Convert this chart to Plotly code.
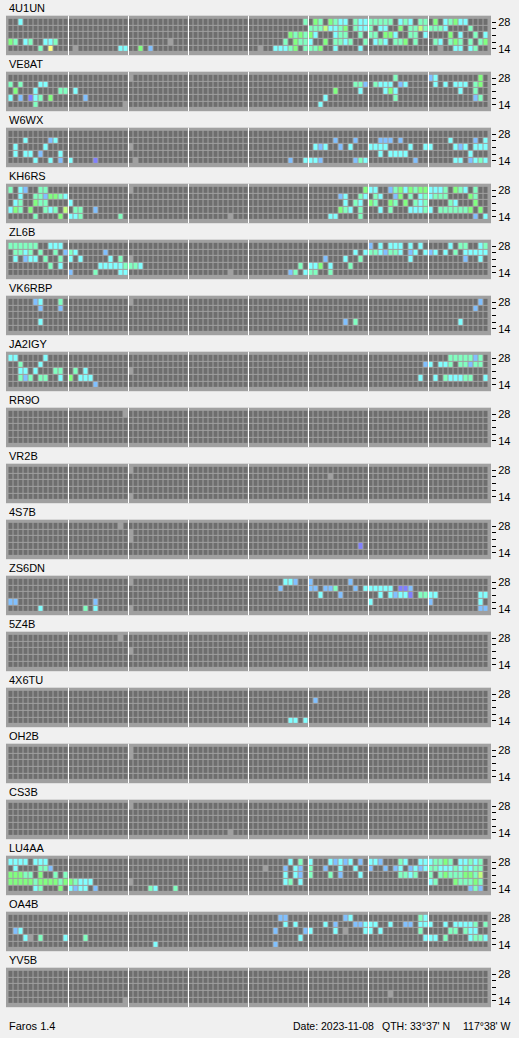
import plotly.graph_objects as go

# ---------------- data ----------------
STATIONS = ["4U1UN", "VE8AT", "W6WX", "KH6RS", "ZL6B", "VK6RBP", "JA2IGY", "RR9O", "VR2B",
            "4S7B", "ZS6DN", "5Z4B", "4X6TU", "OH2B", "CS3B", "LU4AA", "OA4B", "YV5B"]
BANDS = [28, 24, 21, 18, 14]          # rows, top to bottom
BAND_LABELS = ["28", "", "", "", "14"]
N_SLOTS = 96                          # 15-minute slots over the day
LEVEL_CODES = ".LPBCAGYW"             # not heard, no data, then SNR levels weak -> strong
LEVEL_COLORS = ["#6e6e6e", "#a0a0a0", "#8080ff", "#80c0ff", "#80ffff",
                "#80ffc0", "#80ff80", "#c0ff80", "#ffff80"]
FOOT_LEFT = "Faros 1.4"
FOOT_DATE = "Date: 2023-11-08"
FOOT_QTH1 = "QTH: 33°37' N"
FOOT_QTH2 = "117°38' W"

# heard cells per station: one string per band (28,24,21,18,14), tokens "<slot><level>"
S_4U1UN = [
    "2C 59A 61G 62A 64G 65A 66C 67C 69A 70C 71C 72A 73A 74A 75A 76A 78C 79A 80C 82A 83A 85G 87C 88A 89G 90C 91C",
    "60A 61A 62A 63Y 64C 65C 66A 67G 69A 70C 71C 72A 74C 75C 78G 80A 81A 82Y 83A 84A 85A 86A 87C 92A",
    "56G 57A 58G 59A 60G 61C 65C 66A 67A 70A 72A 73A 75G 76G 77C 80A 81A 83C 88G 90C 93A 95C",
    "0G 1A 3C 4A 7C 8C 9A 32L 55A 57G 58A 59A 60C 63G 65A 66A 67C 68A 71A 73C 74A 75C 77A 78A 79G 81A 85A 86C 88A 89G 90A 92A 94A 95G",
    "6A 8W 13L 22C 23C 26G 28B 50L 53C 54C 55C 56A 57G 59A 60A 61A 62G 65C 70C 86L 89C 90C 92C 93A",
]
S_VE8AT = [
    "24L 77A 84B 85C 94G",
    "0A 2A 6C 7C 69A 70A 71B 73A 74C 75C 76C 78B 79C 85C 87C 89C 90C 91C 93A 94G",
    "1G 5C 10A 11A 13C 65G 70C 75C 76G 77C 90C 93A",
    "0C 2B 4P 5C 6A 8G 15B 63C 77A 93B 94A",
    "5A 23L 62C",
]
S_W6WX = [
    "",
    "3C 8B 9C 65B 69B 74B 75B 76B 78B 88C 93B 95C",
    "1C 7C 24L 61C 62B 63C 66B 68C 72C 73C 74C 75C 80C 83C 84C 89C 90B 91C 93C 94C 95C",
    "1C 3C 4C 6B 10C 74C 76C 77C 78C 79C 92C",
    "5C 8C 10B 12C 17P 25L 56B 59C 60C 61C 62B 69B 70A 71C 81B 89C 90C 92B 93C 94A 95C",
]
S_KH6RS = [
    "0A 2C 3B 6A 7A 24L 71G 72C 73C 76B 77A 78G 79C 80G 81A 82G 83G 84C 85C 86C 87A 89G 90A 91C 93A",
    "2C 5A 6A 7B 8G 9G 10A 11C 66B 67C 70A 71C 73A 74C 77B 78G 80A 82C 83A 84C 85A 86A 87A 92G 93A",
    "1C 2A 5G 6A 7A 12C 67C 69A 70C 72G 73A 76G 77A 79G 81A 82C 83A 88A 89C 93G",
    "0C 1G 2A 4G 7A 8C 9A 11Y 13A 14A 17B 66G 67A 68C 70A 74C 76A 80C 81C 82C 83A 84C 86A 87A 88A 89A 90A 91A 92G 94G",
    "5A 10G 12C 13C 14A 22A 44L 64C 65C 70A 93B 95C",
]
S_ZL6B = [
    "0A 1A 2A 3A 4A 5A 8C 9C 10C 72B 74C 76C 77C 78C 80C 82C 88C 90A 91A 94C 95A",
    "1A 2A 3C 4A 6A 9A 11B 12A 13C 19B 69C 71C 72A 73A 74C 75B 76A 77A 78C 80B 81C 83C 84B 85C 87C 89A 91C 92C 93C 94C 95C",
    "1C 3B 4C 5C 7A 10A 12C 14C 20C 22A 24L 63B 67C 70A 80C 91B 94C",
    "8A 10C 18C 19C 20C 21C 22C 23A 24A 25A 26C 58A 60C 61C 62G 64C 68A",
    "12B 17A 22C 23C 44L 56B 57A 59C 60A 61A 64A",
]
S_VK6RBP = [
    "5B 6C 10A 24L 94B",
    "6B 10B 93B",
    "",
    "6C 67B 69A 90C",
    "",
]
S_JA2IGY = [
    "0C 1C 7C 88A 89A 90A 91A 92A 93B 94A",
    "2A 6C 83B 84C 86C 87C 88A 90A 91A 92B 93A 94A",
    "2C 3C 5C 9A 10A 13A 15C 24L",
    "2A 3B 4A 6A 7A 10C 12G 14C 15C 16C 82C 85C 87A 88C 89C 90C 91A 92A 95C",
    "17B",
]
S_RR9O = ["23L", "", "", "", ""]
S_VR2B = ["24L", "64L", "", "", "24L"]
S_4S7B = ["22L", "24L", "24L", "70P", ""]
S_ZS6DN = [
    "24L 55C 56C 57B 60B 68B",
    "54B 60B 61B 63B 64B 65A 69B 71C 72C 73C 74C 75C 76C 78P 79P 80B",
    "62C 66B 74C 76C 77B 78C 79C 80P 82A 83A 84C 85C 94C 95C",
    "0B 1B 17B 72C 84B 94C",
    "6C 15A 17C 24L 94B 95B",
]
S_5Z4B = ["22L", "", "24L", "", ""]
S_4X6TU = ["", "61B", "", "", "56C 57C 59C"]
S_OH2B = ["24L", "24L", "", "", ""]
S_CS3B = ["24L", "", "", "", "44L"]
S_LU4AA = [
    "0C 1C 2C 3C 5C 6C 7C 56C 58A 60C 64C 65B 66C 67B 68C 70B 72C 73C 74B 78A 79C 82C 83C 84C 85A 86A 87G 88A 90C 91C 92A 93C 94A",
    "1C 6A 7A 8B 51L 55B 57C 58B 60A 63B 66C 69C 72B 75B 77B 78C 80B 81C 82B 83C 84A 85A 86C 87C 88C 89A 90C 91A 92C 93A 94A",
    "0G 1G 2G 3A 4A 6G 9A 11A 55C 57C 58B 60A 64A 66B 70C 78A 79A 80C 81A 84A 86A 87G 88A 89A 90A 91G 92G 93A 94Y",
    "0G 1G 2G 3G 4G 5A 6G 7G 8G 9G 10A 11G 12G 13A 14C 15C 16C 24L 55C 56A 58C 84C 85A 89G 90A 91A 92A 93G 94A",
    "5C 6A 10G 12C 13B 14C 15C 17B 28A 29C 33A 92B 93A 94B",
]
S_OA4B = [
    "54B 55B 67B 68C 82A 83C",
    "55C 57C 63C 65B 69B 70B 71C 72C 73C 76C 79B 80B 82C 83C 84C 87C 89C 90C 91C 92C 93A 95A",
    "1B 2C 53B 59B 60C 65C 67L 71C 72C 74C 82A 88A 89A 91A 92C 93C",
    "3C 4L 6A 11C 15A 58C 83C 84C 85C 87A 92C 93A 94A 95C",
    "29C 53B",
]
S_YV5B = ["", "", "", "76L", "23L"]

CELLS = [S_4U1UN, S_VE8AT, S_W6WX, S_KH6RS, S_ZL6B, S_VK6RBP, S_JA2IGY, S_RR9O, S_VR2B,
         S_4S7B, S_ZS6DN, S_5Z4B, S_4X6TU, S_OH2B, S_CS3B, S_LU4AA, S_OA4B, S_YV5B]

# ---------------- figure ----------------
W, H = 519, 1038
ML, MR = 6, 28
PANEL_TOP0, PANEL_PITCH, PANEL_H = 15.7, 56.0, 39.5

nlev = len(LEVEL_COLORS)
colorscale = []
for i, c in enumerate(LEVEL_COLORS):
    colorscale.append([i / nlev, c])
    colorscale.append([(i + 1) / nlev, c])


def build_z(rows):
    z = []
    for s in reversed(rows):                 # y=0 is the bottom band (14)
        r = [0] * N_SLOTS
        for tok in s.split():
            r[int(tok[:-1])] = LEVEL_CODES.index(tok[-1])
        z.append(r)
    return z


fig = go.Figure()
layout = dict(
    width=W, height=H,
    margin=dict(l=ML, r=MR, t=0, b=0),
    paper_bgcolor="#f0f0f0",
    plot_bgcolor="#a0a0a0",
    showlegend=False,
    font=dict(family="Liberation Sans, Arial, sans-serif", size=11, color="black"),
)
shapes, annotations = [], []

for i, (name, rows) in enumerate(zip(STATIONS, CELLS)):
    n = i + 1
    sfx = "" if n == 1 else str(n)
    top = PANEL_TOP0 + PANEL_PITCH * i
    bot = top + PANEL_H
    fig.add_trace(go.Heatmap(
        z=build_z(rows), x=list(range(N_SLOTS)), y=list(range(len(BANDS))),
        colorscale=colorscale, zmin=-0.5, zmax=nlev - 0.5, showscale=False,
        xgap=1, ygap=1, hoverinfo="skip",
        xaxis="x" + sfx, yaxis="y" + sfx,
    ))
    layout["xaxis" + sfx] = dict(
        domain=[0, 1], range=[-1.0, N_SLOTS], anchor="y" + sfx,
        showticklabels=False, ticks="", showgrid=False, zeroline=False,
        showline=False, fixedrange=True,
    )
    layout["yaxis" + sfx] = dict(
        domain=[1 - bot / H, 1 - top / H], range=[-0.97, len(BANDS) - 0.03],
        anchor="x" + sfx, side="right", automargin=False,
        tickvals=list(range(len(BANDS))), ticktext=list(reversed(BAND_LABELS)),
        ticks="outside", ticklen=4, tickwidth=1, tickcolor="black",
        tickfont=dict(size=11, color="black"),
        showgrid=False, zeroline=False, showline=False, fixedrange=True,
    )
    for k in range(1, N_SLOTS // 12):
        shapes.append(dict(type="line", xref="x" + sfx, yref="y" + sfx + " domain",
                           x0=12 * k - 0.5, x1=12 * k - 0.5, y0=0, y1=1,
                           line=dict(color="white", width=1)))
    annotations.append(dict(text=name, xref="paper", yref="paper",
                            x=0.002, y=1 - (top - 7.6) / H,
                            xanchor="left", yanchor="middle", showarrow=False,
                            font=dict(size=11)))

plot_w = W - ML - MR


def px_to_paper_x(px):
    return (px - ML) / plot_w


foot_y = 1 - 1026 / H
foot_font = dict(size=10.5)
annotations += [
    dict(text=FOOT_LEFT, xref="paper", yref="paper", x=px_to_paper_x(6.5), y=foot_y,
         xanchor="left", yanchor="middle", showarrow=False, font=dict(size=11)),
    dict(text=FOOT_DATE, xref="paper", yref="paper", x=px_to_paper_x(291), y=foot_y,
         xanchor="left", yanchor="middle", showarrow=False, font=foot_font),
    dict(text=FOOT_QTH1, xref="paper", yref="paper", x=px_to_paper_x(452), y=foot_y,
         xanchor="right", yanchor="middle", showarrow=False, font=foot_font),
    dict(text=FOOT_QTH2, xref="paper", yref="paper", x=px_to_paper_x(513), y=foot_y,
         xanchor="right", yanchor="middle", showarrow=False, font=foot_font),
]
layout["shapes"] = shapes
layout["annotations"] = annotations
fig.update_layout(**layout)
fig.write_html("out.html", config={"displayModeBar": False},
               post_script="document.body.style.margin='0';document.body.style.overflow='hidden';")
